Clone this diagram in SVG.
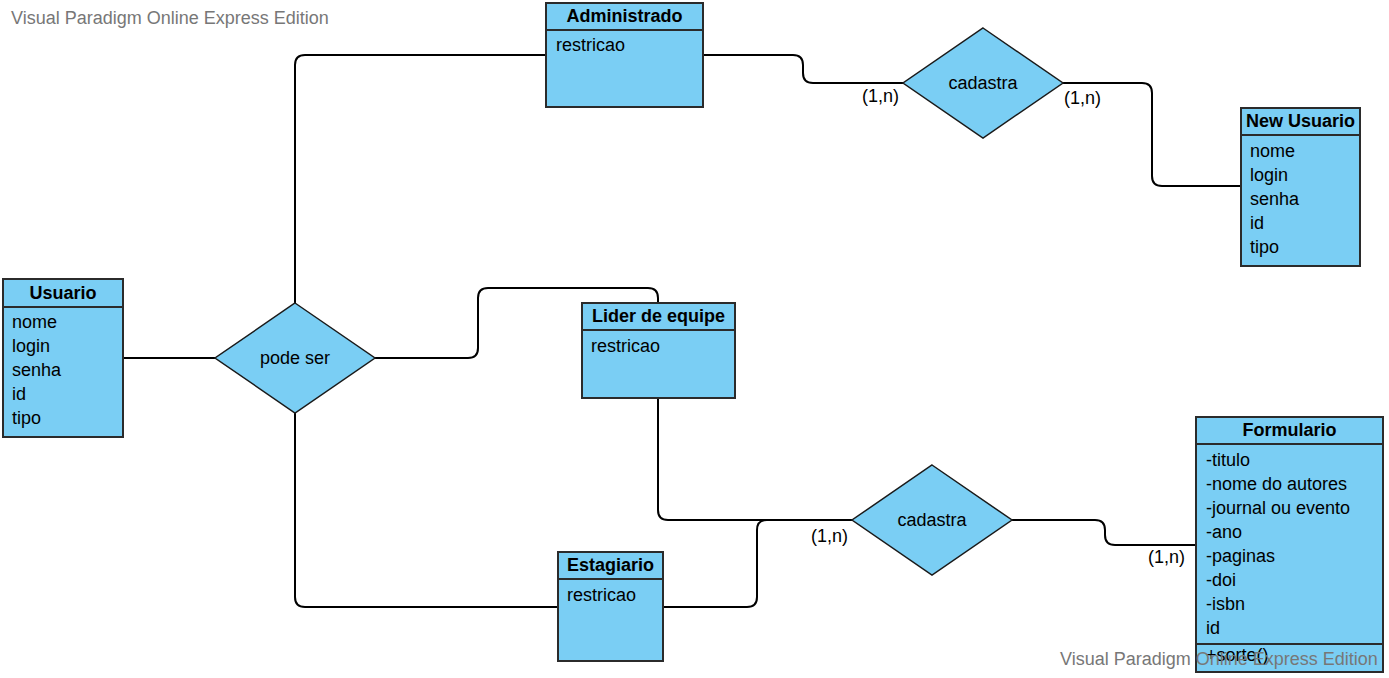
<svg xmlns="http://www.w3.org/2000/svg" width="1389" height="678" viewBox="0 0 1389 678">
  <style>
    text { font-family: "Liberation Sans", Arial, sans-serif; font-size: 18px; fill: #000; }
    .title { font-weight: bold; text-anchor: middle; }
    .mid { text-anchor: middle; }
    .box { fill: #7ACEF4; stroke: #2b2b2b; stroke-width: 2; }
    .sep { stroke: #2b2b2b; stroke-width: 2; }
    .rel { fill: #7ACEF4; stroke: #1a1a1a; stroke-width: 1.5; }
    .conn { fill: none; stroke: #000; stroke-width: 2; }
    .card { font-size: 18px; }
    .mark { fill: #777; }
  </style>

  <rect width="1389" height="678" fill="#fff"/>

  <!-- relationship lines -->
  <g id="connectors">
    <path class="conn" d="M123,358 H215"/>
    <path class="conn" d="M295,303 V65 Q295,55 305,55 H546"/>
    <path class="conn" d="M295,413 V597 Q295,607 305,607 H558"/>
    <path class="conn" d="M375,358 H468 Q478,358 478,348 V298 Q478,288 488,288 H648 Q658,288 658,298 V303"/>
    <path class="conn" d="M703,55 H793 Q803,55 803,65 V73 Q803,83 813,83 H903"/>
    <path class="conn" d="M1063,83 H1142 Q1152,83 1152,93 V176 Q1152,186 1162,186 H1241"/>
    <path class="conn" d="M658,398 V510 Q658,520 668,520 H852"/>
    <path class="conn" d="M663,607 H747 Q757,607 757,597 V530 Q757,520 767,520 H852"/>
    <path class="conn" d="M1012,520 H1095 Q1105,520 1105,530 V535 Q1105,545 1115,545 H1196"/>
    <text class="card" x="862" y="102">(1,n)</text>
    <text class="card" x="1064" y="104">(1,n)</text>
    <text class="card" x="811" y="542">(1,n)</text>
    <text class="card" x="1148" y="563">(1,n)</text>
  </g>

  <g id="usuario">
    <rect class="box" x="3" y="279" width="120" height="158"/>
    <line class="sep" x1="3" y1="307" x2="123" y2="307"/>
    <text class="title" x="63" y="299">Usuario</text>
    <text x="12" y="328">nome</text>
    <text x="12" y="352">login</text>
    <text x="12" y="376">senha</text>
    <text x="12" y="400">id</text>
    <text x="12" y="424">tipo</text>
  </g>

  <g id="administrado">
    <rect class="box" x="546" y="3" width="157" height="104"/>
    <line class="sep" x1="546" y1="30" x2="703" y2="30"/>
    <text class="title" x="624.5" y="22">Administrado</text>
    <text x="556" y="51">restricao</text>
  </g>

  <g id="new-usuario">
    <rect class="box" x="1241" y="108" width="119" height="158"/>
    <line class="sep" x1="1241" y1="135" x2="1360" y2="135"/>
    <text class="title" x="1300.5" y="127">New Usuario</text>
    <text x="1250" y="157">nome</text>
    <text x="1250" y="181">login</text>
    <text x="1250" y="205">senha</text>
    <text x="1250" y="229">id</text>
    <text x="1250" y="253">tipo</text>
  </g>

  <g id="lider-de-equipe">
    <rect class="box" x="582" y="303" width="153" height="95"/>
    <line class="sep" x1="582" y1="330" x2="735" y2="330"/>
    <text class="title" x="658.5" y="322">Lider de equipe</text>
    <text x="591" y="352">restricao</text>
  </g>

  <g id="estagiario">
    <rect class="box" x="558" y="552" width="105" height="109"/>
    <line class="sep" x1="558" y1="579" x2="663" y2="579"/>
    <text class="title" x="610.5" y="571">Estagiario</text>
    <text x="567" y="601">restricao</text>
  </g>

  <g id="formulario">
    <rect class="box" x="1196" y="417" width="187" height="255"/>
    <line class="sep" x1="1196" y1="444" x2="1383" y2="444"/>
    <line class="sep" x1="1196" y1="644" x2="1383" y2="644"/>
    <text class="title" x="1289.5" y="436">Formulario</text>
    <text x="1206" y="466">-titulo</text>
    <text x="1206" y="490">-nome do autores</text>
    <text x="1206" y="514">-journal ou evento</text>
    <text x="1206" y="538">-ano</text>
    <text x="1206" y="562">-paginas</text>
    <text x="1206" y="586">-doi</text>
    <text x="1206" y="610">-isbn</text>
    <text x="1206" y="634">id</text>
    <text x="1206" y="661">+sorte()</text>
  </g>

  <g id="pode-ser">
    <polygon class="rel" points="295,303 375,358 295,413 215,358"/>
    <text class="mid" x="295" y="364">pode ser</text>
  </g>

  <g id="cadastra-usuario">
    <polygon class="rel" points="983,28 1063,83 983,138 903,83"/>
    <text class="mid" x="983" y="89">cadastra</text>
  </g>

  <g id="cadastra-formulario">
    <polygon class="rel" points="932,465 1012,520 932,575 852,520"/>
    <text class="mid" x="932" y="526">cadastra</text>
  </g>

  <!-- edition banners -->
  <text class="mark" x="11" y="24">Visual Paradigm Online Express Edition</text>
  <text class="mark" x="1060" y="665">Visual Paradigm Online Express Edition</text>
</svg>
